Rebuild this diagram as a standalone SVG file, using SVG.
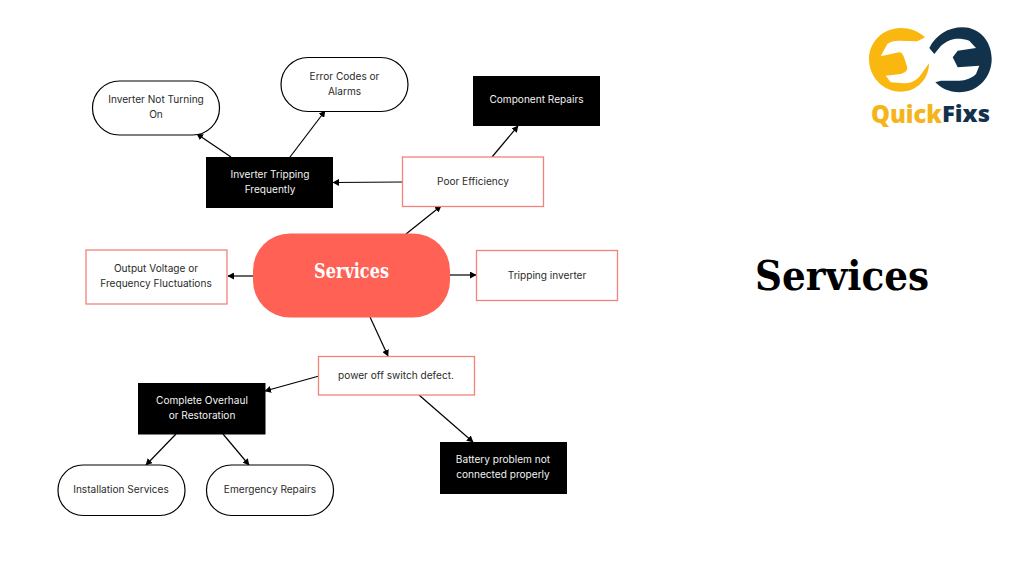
<svg xmlns="http://www.w3.org/2000/svg" width="1024" height="576" viewBox="0 0 1024 576">
<style>
.t{font-family:Inter,"Liberation Sans",sans-serif;font-size:10.1px;text-anchor:middle;fill:#2b2b2b}
.w{fill:#f2f2f2}
.pill{fill:#fff;stroke:#000;stroke-width:1.2}
.blk{fill:#000}
.red{fill:#fff;stroke:#f0837a;stroke-width:1.3}
.c line{stroke:#000;stroke-width:1.2;marker-end:url(#a)}
.h{font-family:"DejaVu Serif","Liberation Serif",serif;font-weight:700}
</style>
<defs><marker id="a" markerUnits="userSpaceOnUse" markerWidth="7" markerHeight="7" refX="6" refY="3.500" orient="auto"><path d="M0 0L6.500 3.500L0 7Z" fill="#000"/></marker></defs>
<rect width="1024" height="576" fill="#fff"/>
<g class="c" id="connectors">
<line x1="231" y1="157" x2="197" y2="134"/>
<line x1="290" y1="157" x2="325" y2="111"/>
<line x1="403" y1="182" x2="333" y2="182.500"/>
<line x1="492" y1="157" x2="518" y2="126"/>
<line x1="406" y1="234" x2="441" y2="206"/>
<line x1="253" y1="276" x2="228" y2="276"/>
<line x1="450" y1="275" x2="476" y2="275"/>
<line x1="370" y1="317" x2="388" y2="356"/>
<line x1="319" y1="376" x2="265" y2="391"/>
<line x1="419" y1="395" x2="473" y2="442"/>
<line x1="176" y1="434" x2="146" y2="465"/>
<line x1="223" y1="434" x2="249" y2="465"/>
</g>
<g id="n-notturning"><rect class="pill" x="92.500" y="81" width="127" height="54" rx="27"/><text class="t" x="156" y="103">Inverter Not Turning</text><text class="t" x="156" y="118">On</text></g>
<g id="n-error"><rect class="pill" x="281" y="57.500" width="127" height="54" rx="27"/><text class="t" x="344.500" y="80">Error Codes or</text><text class="t" x="344.500" y="95">Alarms</text></g>
<g id="n-component"><rect class="blk" x="473" y="76" width="127" height="50"/><text class="t w" x="536.500" y="103">Component Repairs</text></g>
<g id="n-tripping-freq"><rect class="blk" x="206" y="157" width="127" height="51"/><text class="t w" x="270" y="178">Inverter Tripping</text><text class="t w" x="270" y="193">Frequently</text></g>
<g id="n-efficiency"><rect class="red" x="402.500" y="157" width="141" height="49.500"/><text class="t" x="473" y="185">Poor Efficiency</text></g>
<g id="n-output"><rect class="red" x="86" y="250" width="141" height="54"/><text class="t" x="156" y="272">Output Voltage or</text><text class="t" x="156" y="287">Frequency Fluctuations</text></g>
<g id="n-services"><rect x="253" y="233.500" width="197" height="84" rx="37" fill="#ff6154"/><text class="h" x="314" y="278" font-size="20" fill="#fff" textLength="75" lengthAdjust="spacingAndGlyphs">Services</text></g>
<g id="n-tripping"><rect class="red" x="476.500" y="250.500" width="141" height="50"/><text class="t" x="547" y="279">Tripping inverter</text></g>
<g id="n-power"><rect class="red" x="318.500" y="356.500" width="156" height="38.500"/><text class="t" x="396" y="379">power off switch defect.</text></g>
<g id="n-overhaul"><rect class="blk" x="138" y="383" width="127.500" height="51.500"/><text class="t w" x="202" y="404">Complete Overhaul</text><text class="t w" x="202" y="419">or Restoration</text></g>
<g id="n-battery"><rect class="blk" x="440" y="442" width="127" height="52"/><text class="t w" x="503" y="463">Battery problem not</text><text class="t w" x="503" y="478">connected properly</text></g>
<g id="n-install"><rect class="pill" x="58" y="465" width="127" height="50.500" rx="25"/><text class="t" x="121" y="493">Installation Services</text></g>
<g id="n-emergency"><rect class="pill" x="206.500" y="465" width="127" height="50.500" rx="25"/><text class="t" x="270" y="493">Emergency Repairs</text></g>
<text class="h" x="755" y="290" font-size="41" fill="#000" textLength="174" lengthAdjust="spacingAndGlyphs">Services</text>
<g id="logo">
<path d="M925 37.300C918 31 910 28 900.700 28C883 28 869 42 869 59C869 77 883 91.700 900.700 91.700C917 91.700 929 79 929 63.300L919 77.300C914 82 909 83.500 904 83.300L890.700 82.300L885.700 75.700L900.700 74C905 72.500 907.500 71 907.300 67.300L904 57.300C903 54 901 52 899 52.300L880.700 56.300L887.300 44C891 41.500 895 40.500 899 40.700L917.300 41.300Z" fill="#fab70f"/>
<path d="M929.300 48C936 35 948 27.300 962.700 27.300C979 27.300 991.700 41 991.700 59C991.700 77 978 92.300 959.300 92.300C949 92.300 941 88 935.300 82.300L941 80.700L959.300 80.700C966 80.500 972 78 976 74L979.300 65.700L957.700 67.300L952.700 57.300L957.700 50.700L976 48L969.300 40.700C964 39 959 38.500 954.300 39C949 40 945 42.500 941 45.700L934.300 54Z" fill="#12324c"/>
<text x="871" y="123" font-family="'Open Sans','Liberation Sans',sans-serif" font-size="24" font-weight="800" fill="#f4b41a" textLength="71" lengthAdjust="spacingAndGlyphs">Quick</text>
<text x="942" y="122" font-family="'Open Sans','Liberation Sans',sans-serif" font-size="23" font-weight="800" fill="#12324c" textLength="48" lengthAdjust="spacingAndGlyphs">Fixs</text>
</g>
</svg>
